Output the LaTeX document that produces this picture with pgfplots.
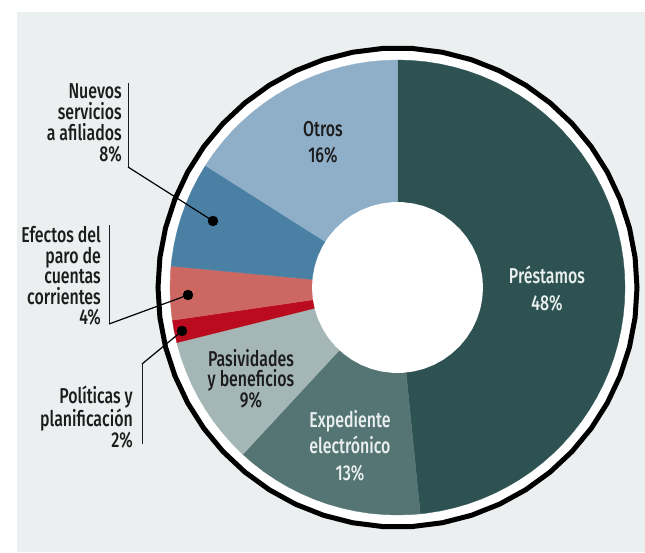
\documentclass[border=0pt]{standalone}
\usepackage{pgfplots}
\pgfplotsset{compat=1.18}
\usepackage{fontspec}
\setmainfont{Fira Sans}[UprightFont={* Medium}, FakeStretch=0.74]
\definecolor{bg}{HTML}{EBEFF0}
\definecolor{cPre}{HTML}{2E5252}
\definecolor{cExp}{HTML}{547574}
\definecolor{cPas}{HTML}{A4B7B6}
\definecolor{cPol}{HTML}{BB0B1F}
\definecolor{cEfe}{HTML}{CD6761}
\definecolor{cNue}{HTML}{4A80A3}
\definecolor{cOtr}{HTML}{8FAEC8}
\definecolor{wtxt}{HTML}{EAEFEF}
\definecolor{btxt}{HTML}{1C1C1C}
\begin{document}
\begin{tikzpicture}
\begin{axis}[
  scale only axis, width=645pt, height=552pt,
  xmin=-397.5, xmax=247.5, ymin=-264.5, ymax=287.5,
  hide axis, clip=false,
]
% page and panel background
\addplot[fill=white, draw=none] coordinates {(-397.5,-264.5) (247.5,-264.5) (247.5,287.5) (-397.5,287.5)} -- cycle;
\addplot[fill=bg, draw=none] coordinates {(-381,-264.5) (247.5,-264.5) (247.5,275.5) (-381,275.5)} -- cycle;
% outer ring
\addplot[data cs=polar, draw=black, line width=5pt, fill=white] coordinates {
(0,239.5) (7.2,239.5) (14.4,239.5) (21.6,239.5) (28.8,239.5) (36,239.5) (43.2,239.5) (50.4,239.5) (57.6,239.5) (64.8,239.5)
(72,239.5) (79.2,239.5) (86.4,239.5) (93.6,239.5) (100.8,239.5) (108,239.5) (115.2,239.5) (122.4,239.5) (129.6,239.5) (136.8,239.5)
(144,239.5) (151.2,239.5) (158.4,239.5) (165.6,239.5) (172.8,239.5) (180,239.5) (187.2,239.5) (194.4,239.5) (201.6,239.5) (208.8,239.5)
(216,239.5) (223.2,239.5) (230.4,239.5) (237.6,239.5) (244.8,239.5) (252,239.5) (259.2,239.5) (266.4,239.5) (273.6,239.5) (280.8,239.5)
(288,239.5) (295.2,239.5) (302.4,239.5) (309.6,239.5) (316.8,239.5) (324,239.5) (331.2,239.5) (338.4,239.5) (345.6,239.5) (352.8,239.5)} -- cycle;
% Prestamos 48.4
\addplot[data cs=polar, fill=cPre, draw=cPre, line width=0.3pt] coordinates {
(0,0) (90,227.5) (86.4,227.5) (82.8,227.5) (79.2,227.5) (75.6,227.5) (72,227.5) (68.4,227.5) (64.8,227.5) (61.2,227.5) (57.6,227.5)
(54,227.5) (50.4,227.5) (46.8,227.5) (43.2,227.5) (39.6,227.5) (36,227.5) (32.4,227.5) (28.8,227.5) (25.2,227.5) (21.6,227.5)
(18,227.5) (14.4,227.5) (10.8,227.5) (7.2,227.5) (3.6,227.5) (0,227.5) (-3.6,227.5) (-7.2,227.5) (-10.8,227.5) (-14.4,227.5)
(-18,227.5) (-21.6,227.5) (-25.2,227.5) (-28.8,227.5) (-32.4,227.5) (-36,227.5) (-39.6,227.5) (-43.2,227.5) (-46.8,227.5) (-50.4,227.5)
(-54,227.5) (-57.6,227.5) (-61.2,227.5) (-64.8,227.5) (-68.4,227.5) (-72,227.5) (-75.6,227.5) (-79.2,227.5) (-82.8,227.5) (-84.24,227.5)} -- cycle;
% Expediente 13.5
\addplot[data cs=polar, fill=cExp, draw=cExp, line width=0.3pt] coordinates {
(0,0) (-84.24,227.5) (-86.4,227.5) (-90,227.5) (-93.6,227.5) (-97.2,227.5) (-100.8,227.5) (-104.4,227.5) (-108,227.5) (-111.6,227.5)
(-115.2,227.5) (-118.8,227.5) (-122.4,227.5) (-126,227.5) (-129.6,227.5) (-132.84,227.5)} -- cycle;
% Pasividades 9.2
\addplot[data cs=polar, fill=cPas, draw=cPas, line width=0.3pt] coordinates {
(0,0) (-132.84,227.5) (-133.2,227.5) (-136.8,227.5) (-140.4,227.5) (-144,227.5) (-147.6,227.5) (-151.2,227.5) (-154.8,227.5)
(-158.4,227.5) (-162,227.5) (-165.6,227.5) (-165.96,227.5)} -- cycle;
% Politicas 1.6
\addplot[data cs=polar, fill=cPol, draw=cPol, line width=0.3pt] coordinates {
(0,0) (-165.96,227.5) (-169.2,227.5) (-171.72,227.5)} -- cycle;
% Efectos 3.8
\addplot[data cs=polar, fill=cEfe, draw=cEfe, line width=0.3pt] coordinates {
(0,0) (-171.72,227.5) (-172.8,227.5) (-176.4,227.5) (-180,227.5) (-183.6,227.5) (-185.4,227.5)} -- cycle;
% Nuevos 7.5
\addplot[data cs=polar, fill=cNue, draw=cNue, line width=0.3pt] coordinates {
(0,0) (-185.4,227.5) (-187.2,227.5) (-190.8,227.5) (-194.4,227.5) (-198,227.5) (-201.6,227.5) (-205.2,227.5) (-208.8,227.5) (-212.4,227.5)} -- cycle;
% Otros 16
\addplot[data cs=polar, fill=cOtr, draw=cOtr, line width=0.3pt] coordinates {
(0,0) (-212.4,227.5) (-216,227.5) (-219.6,227.5) (-223.2,227.5) (-226.8,227.5) (-230.4,227.5) (-234,227.5) (-237.6,227.5) (-241.2,227.5)
(-244.8,227.5) (-248.4,227.5) (-252,227.5) (-255.6,227.5) (-259.2,227.5) (-262.8,227.5) (-266.4,227.5) (-270,227.5)} -- cycle;
% hole
\addplot[data cs=polar, fill=white, draw=none] coordinates {
(0,85.5) (7.2,85.5) (14.4,85.5) (21.6,85.5) (28.8,85.5) (36,85.5) (43.2,85.5) (50.4,85.5) (57.6,85.5) (64.8,85.5)
(72,85.5) (79.2,85.5) (86.4,85.5) (93.6,85.5) (100.8,85.5) (108,85.5) (115.2,85.5) (122.4,85.5) (129.6,85.5) (136.8,85.5)
(144,85.5) (151.2,85.5) (158.4,85.5) (165.6,85.5) (172.8,85.5) (180,85.5) (187.2,85.5) (194.4,85.5) (201.6,85.5) (208.8,85.5)
(216,85.5) (223.2,85.5) (230.4,85.5) (237.6,85.5) (244.8,85.5) (252,85.5) (259.2,85.5) (266.4,85.5) (273.6,85.5) (280.8,85.5)
(288,85.5) (295.2,85.5) (302.4,85.5) (309.6,85.5) (316.8,85.5) (324,85.5) (331.2,85.5) (338.4,85.5) (345.6,85.5) (352.8,85.5)} -- cycle;
% leader lines
\addplot[color=btxt, line width=0.9pt] coordinates {(-269.5,204.5) (-269.5,120.5)};
\addplot[color=black, line width=1.2pt] coordinates {(-269.5,120.5) (-184.5,66.5)};
\addplot[color=btxt, line width=0.9pt] coordinates {(-288.5,62.5) (-288.5,-36.5)};
\addplot[color=black, line width=1.2pt] coordinates {(-288.5,-36.5) (-209.5,-7.5)};
\addplot[color=btxt, line width=0.9pt] coordinates {(-255.5,-76.5) (-255.5,-156.5)};
\addplot[color=black, line width=1.2pt] coordinates {(-255.5,-76.5) (-215.5,-43.5)};
\addplot[only marks, mark=*, mark size=5pt, color=black] coordinates {(-184.5,66.5) (-209.5,-7.5) (-215.5,-43.5)};
% labels
\node[font=\fontsize{21.5}{26}\selectfont, text=btxt, align=center] at (-74.5,145.5) {Otros\\16\%};
\node[font=\fontsize{21.5}{27}\selectfont, text=wtxt, align=center] at (149.5,-1) {Préstamos\\48\%};
\node[font=\fontsize{21.5}{20}\selectfont, text=btxt, align=center] at (-146.5,-91) {Pasividades\\y beneficios\\9\%};
\node[font=\fontsize{21.5}{26.5}\selectfont, text=wtxt, align=center] at (-47.5,-158) {Expediente\\electrónico\\13\%};
\node[font=\fontsize{21.5}{20.7}\selectfont, text=btxt, align=right, anchor=east, inner sep=0pt] at (-275.5,164.5) {Nuevos\\servicios\\a afiliados\\8\%};
\node[font=\fontsize{21.5}{20.5}\selectfont, text=btxt, align=right, anchor=east, inner sep=0pt] at (-296.5,11.5) {Efectos del\\paro de\\cuentas\\corrientes\\4\%};
\node[font=\fontsize{21.5}{20}\selectfont, text=btxt, align=right, anchor=east, inner sep=0pt] at (-264.5,-129.5) {Políticas y\\planificación\\2\%};
\end{axis}
\end{tikzpicture}
\end{document}
